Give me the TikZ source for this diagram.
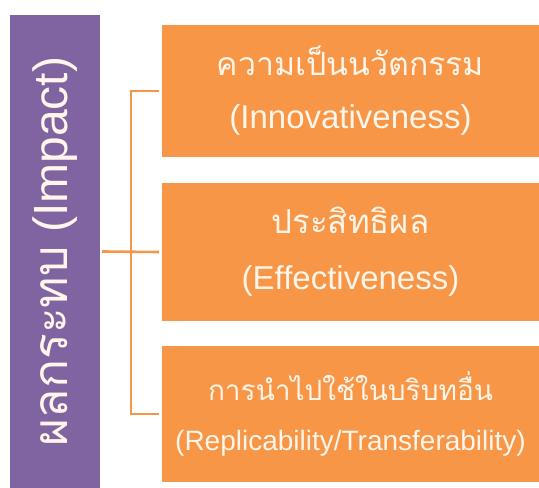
\documentclass[tikz,border=0pt]{standalone}
\usepackage{fontspec}
\setmainfont{Liberation Sans}
\newfontfamily\thaifont[Script=Thai]{Loma}
\definecolor{impactpurple}{HTML}{8064A2}
\definecolor{critorange}{HTML}{F79646}
\definecolor{crittext}{HTML}{FFF5EA}
\begin{document}
\begin{tikzpicture}[x=1pt,y=-1pt]
\tikzstyle{crit}=[rectangle,fill=critorange,text=crittext,minimum width=377pt,align=center,inner sep=0pt]
  \tikzstyle{link}=[draw=critorange,line width=2.6pt]

  \useasboundingbox (0,0) rectangle (539,488);
  \node[rectangle,fill=impactpurple,text=crittext,rotate=90,minimum width=473pt,minimum height=90pt,
    font=\fontsize{48}{50}\selectfont] (impact) at (55,251.5) {{\thaifont ผลกระทบ} (Impact)};

  \node[crit,minimum height=132pt,font=\fontsize{33}{53}\selectfont] (innov) at (350.5,91)
    {{\thaifont\fontsize{32}{53}\selectfont ความเป็นนวัตกรรม}\\(Innovativeness)};
  \node[crit,minimum height=138pt,font=\fontsize{33}{56}\selectfont] (effect) at (350.5,252)
    {{\thaifont ประสิทธิผล}\\(Effectiveness)};
  \node[crit,minimum height=136pt,font=\fontsize{28}{50}\selectfont] (replic) at (350.5,414)
    {{\thaifont การนำไปใช้ในบริบทอื่น}\\(Replicability/Transferability)};

  \coordinate (fork) at (131,252);
  \draw[link] ([xshift=2pt]impact.south) -- ([xshift=-3pt]effect.west);
  \draw[link] ([xshift=-3pt]innov.west) -| (fork) |- ([xshift=-3pt]replic.west);
\end{tikzpicture}
\end{document}
